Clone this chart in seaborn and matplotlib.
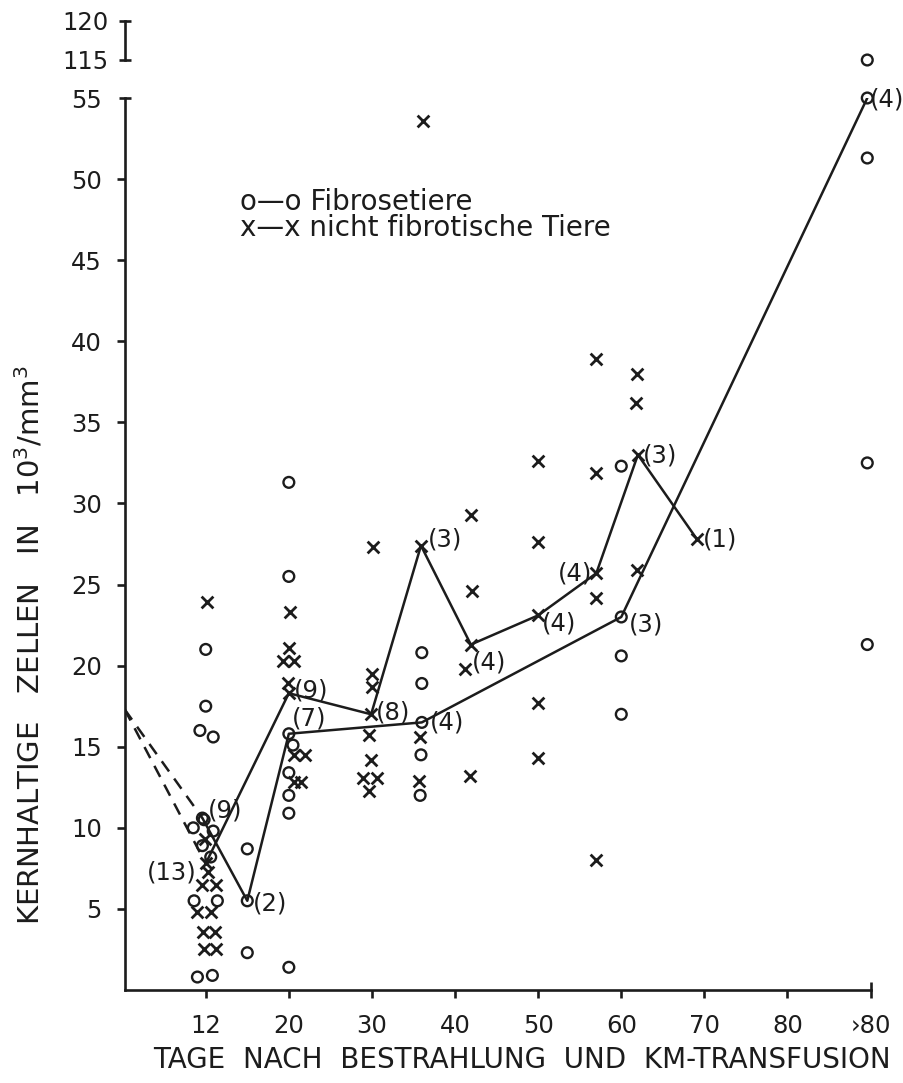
import numpy as np
import pandas as pd
import matplotlib
matplotlib.use("Agg")
import matplotlib.pyplot as plt
import seaborn as sns

# Horizontal axis: evenly spaced ticks; the tick labelled "12" sits at position 10
tick_pos = [10, 20, 30, 40, 50, 60, 70, 80, 90]
tick_labels = ["12", "20", "30", "40", "50", "60", "70", "80", "›80"]
y_ticks = [5, 10, 15, 20, 25, 30, 35, 40, 45, 50, 55]
top_ticks = [115, 120]

# Single animals, fibrosis group (circles)
fib_x = [10.0, 10.0, 9.3, 10.9, 8.5, 9.8, 10.9, 9.6, 10.6, 8.6, 11.4, 9.0, 10.8,
         15.0, 15.0,
         20.0, 20.0, 20.5, 20.0, 20.0, 20.0, 20.0,
         36.0, 36.0, 35.9, 35.8,
         60.0, 60.0, 60.0,
         89.6, 89.6, 89.6]
fib_y = [21.0, 17.5, 16.0, 15.6, 10.0, 10.5, 9.8, 8.9, 8.2, 5.5, 5.5, 0.8, 0.9,
         8.7, 2.3,
         31.3, 25.5, 15.1, 13.4, 12.0, 10.9, 1.4,
         20.8, 18.9, 14.5, 12.0,
         32.3, 20.6, 17.0,
         51.3, 32.5, 21.3]
# one fibrosis animal far above the axis break
fib_top_x = [89.6]
fib_top_y = [115.0]

# Single animals, non-fibrotic group (crosses)
nf_x = [10.1, 9.9, 10.3, 9.6, 11.2, 8.9, 10.6, 9.7, 11.1, 9.8, 11.2,
        20.1, 20.0, 19.3, 20.6, 19.9, 20.6, 22.0, 20.6, 21.5,
        30.1, 30.0, 30.0, 29.7, 29.9, 28.9, 30.6, 29.7,
        36.1, 35.8, 35.7,
        41.9, 42.0, 41.2, 41.8,
        50.0, 50.0, 50.0, 50.0,
        57.0, 56.9, 57.0, 56.9,
        61.9, 61.8, 61.9]
nf_y = [23.9, 9.3, 7.3, 6.5, 6.5, 4.8, 4.8, 3.6, 3.6, 2.5, 2.5,
        23.3, 21.1, 20.3, 20.3, 18.9, 14.5, 14.5, 12.8, 12.8,
        27.3, 19.5, 18.7, 15.7, 14.2, 13.1, 13.1, 12.3,
        53.6, 15.6, 12.9,
        29.3, 24.6, 19.8, 13.2,
        32.6, 27.6, 17.7, 14.3,
        38.9, 31.9, 24.2, 8.0,
        38.0, 36.2, 25.9]

# Group means with number of animals
fib_mean_x = [9.6, 15.0, 20.0, 36.0, 60.0, 89.6]
fib_mean_y = [10.6, 5.5, 15.8, 16.5, 23.0, 55.0]
fib_n = ["(13)", "(2)", "(7)", "(4)", "(3)", "(4)"]
nf_mean_x = [10.0, 20.0, 29.9, 35.9, 41.9, 50.0, 57.0, 62.0, 69.1]
nf_mean_y = [7.8, 18.3, 17.0, 27.4, 21.3, 23.1, 25.7, 33.0, 27.8]
nf_n = ["(9)", "(9)", "(8)", "(3)", "(4)", "(4)", "(4)", "(3)", "(1)"]

# value before irradiation, joined to day 12 by dashed lines
start_x = 0.25
start_y = 17.3

# label placement (pixel offsets from the mean point, alignment)
fib_lab_off = [(-6, -54, "right"), (6, -3, "left"), (3, 15, "left"),
               (8, 0, "left"), (8, -8, "left"), (3, -2, "left")]
nf_lab_off = [(2, 53, "left"), (5, 3, "left"), (5, 2, "left"), (7, 6, "left"),
              (1, -18, "left"), (4, -8, "left"), (-4, 0, "right"),
              (5, -1, "left"), (6, 0, "left")]

ink = "#1c1c1c"
sns.set_style("ticks")
plt.rcParams["font.family"] = ["DejaVu Sans"]
plt.rcParams["mathtext.fontset"] = "dejavusans"

W, H = 904, 1083
fig = plt.figure(figsize=(W / 100, H / 100), dpi=100)
fig.patch.set_facecolor("white")

x0_px, x1_px = 124.7, 870.6
y0_px, y55_px = 990.0, 98.0
ax = fig.add_axes([x0_px / W, 1 - y0_px / H, (x1_px - x0_px) / W, (y0_px - y55_px) / H])
top = fig.add_axes([x0_px / W, 1 - 60 / H, (x1_px - x0_px) / W, 39 / H])

for a in (ax, top):
    a.set_facecolor("none")
    a.set_xlim(start_x, 90)
ax.set_ylim(0, 55)
top.set_ylim(115, 120)

fib = pd.DataFrame({"tag": fib_x, "zellen": fib_y})
nf = pd.DataFrame({"tag": nf_x, "zellen": nf_y})
fib_m = pd.DataFrame({"tag": fib_mean_x, "zellen": fib_mean_y})
nf_m = pd.DataFrame({"tag": nf_mean_x, "zellen": nf_mean_y})

lw_line = 1.8

# dashed extrapolation from the starting value to day 12
sns.lineplot(x=[start_x, fib_mean_x[0]], y=[start_y, fib_mean_y[0]], sort=False,
             estimator=None, color=ink, lw=lw_line, linestyle=(0, (5, 3.5)), ax=ax)
sns.lineplot(x=[start_x, nf_mean_x[0]], y=[start_y, nf_mean_y[0]], sort=False,
             estimator=None, color=ink, lw=lw_line, linestyle=(0, (5, 3.5)), ax=ax)

# solid lines through the means
sns.lineplot(data=fib_m, x="tag", y="zellen", sort=False, estimator=None,
             color=ink, lw=lw_line, ax=ax)
sns.lineplot(data=nf_m, x="tag", y="zellen", sort=False, estimator=None,
             color=ink, lw=lw_line, ax=ax)


def hollow(data, axis, s=60):
    sns.scatterplot(data=data, x="tag", y="zellen", marker="o", s=s,
                    linewidth=1.7, ax=axis, zorder=4)
    coll = axis.collections[-1]
    coll.set_facecolor("none")
    coll.set_edgecolor(ink)
    coll.set_clip_on(False)


def crosses(data, axis, s=72):
    sns.scatterplot(data=data, x="tag", y="zellen", marker="x", s=s,
                    color=ink, linewidth=2.0, ax=axis, zorder=4)
    axis.collections[-1].set_clip_on(False)


hollow(fib, ax)
hollow(fib_m, ax)
crosses(nf, ax)
crosses(nf_m, ax)
hollow(pd.DataFrame({"tag": fib_top_x, "zellen": fib_top_y}), top)

# group sizes
for xv, yv, txt, (dx, dy, ha) in zip(fib_mean_x, fib_mean_y, fib_n, fib_lab_off):
    ax.annotate(txt, (xv, yv), xytext=(dx, dy), textcoords="offset pixels",
                ha=ha, va="center", fontsize=17.5, color=ink, annotation_clip=False)
for xv, yv, txt, (dx, dy, ha) in zip(nf_mean_x, nf_mean_y, nf_n, nf_lab_off):
    ax.annotate(txt, (xv, yv), xytext=(dx, dy), textcoords="offset pixels",
                ha=ha, va="center", fontsize=17.5, color=ink, annotation_clip=False)

# axes styling
for a in (ax, top):
    for side in ("top", "right"):
        a.spines[side].set_visible(False)
    a.spines["left"].set_linewidth(1.9)
    a.spines["left"].set_color(ink)
ax.spines["bottom"].set_linewidth(1.9)
ax.spines["bottom"].set_color(ink)
top.spines["bottom"].set_visible(False)

ax.set_xticks(tick_pos)
ax.set_xticklabels(tick_labels)
ax.set_yticks(y_ticks)
ax.set_yticklabels([str(v) for v in y_ticks])
ax.tick_params(axis="both", direction="out", length=5.5, width=1.9, color=ink,
               labelsize=17.5, labelcolor=ink, pad=11, left=True, bottom=True)
ax.tick_params(axis="x", pad=12)

# capped ends of the axes
cap = ax.yaxis.get_major_ticks()[-1].tick1line
cap.set_marker("_")
cap.set_markersize(9)
endx = ax.xaxis.get_major_ticks()[-1].tick1line
endx.set_marker("|")
endx.set_markersize(11)

top.set_xticks([])
top.set_yticks(top_ticks)
top.set_yticklabels([str(v) for v in top_ticks])
top.tick_params(axis="y", direction="inout", length=9, width=1.9, color=ink,
                labelsize=17.5, labelcolor=ink, pad=7, left=True)
top.set_xlabel("")
top.set_ylabel("")

ax.set_xlabel("TAGE  NACH  BESTRAHLUNG  UND  KM-TRANSFUSION", fontsize=20, color=ink)
ax.xaxis.set_label_coords((522 - x0_px) / (x1_px - x0_px), (y0_px - 1060) / (y0_px - y55_px))
ax.xaxis.label.set_va("center")
ax.set_ylabel(r"KERNHALTIGE   ZELLEN   IN   10$^{3}$/mm$^{3}$", fontsize=21, color=ink)
ax.yaxis.set_label_coords((30 - x0_px) / (x1_px - x0_px), (y0_px - 645) / (y0_px - y55_px))
ax.yaxis.label.set_va("center")

# key
fig.text(240 / W, 1 - 202 / H, "o—o Fibrosetiere", fontsize=20, color=ink,
         ha="left", va="center")
fig.text(240 / W, 1 - 228 / H, "x—x nicht fibrotische Tiere", fontsize=20, color=ink,
         ha="left", va="center")

fig.savefig("out.png", dpi=100, facecolor="white")
